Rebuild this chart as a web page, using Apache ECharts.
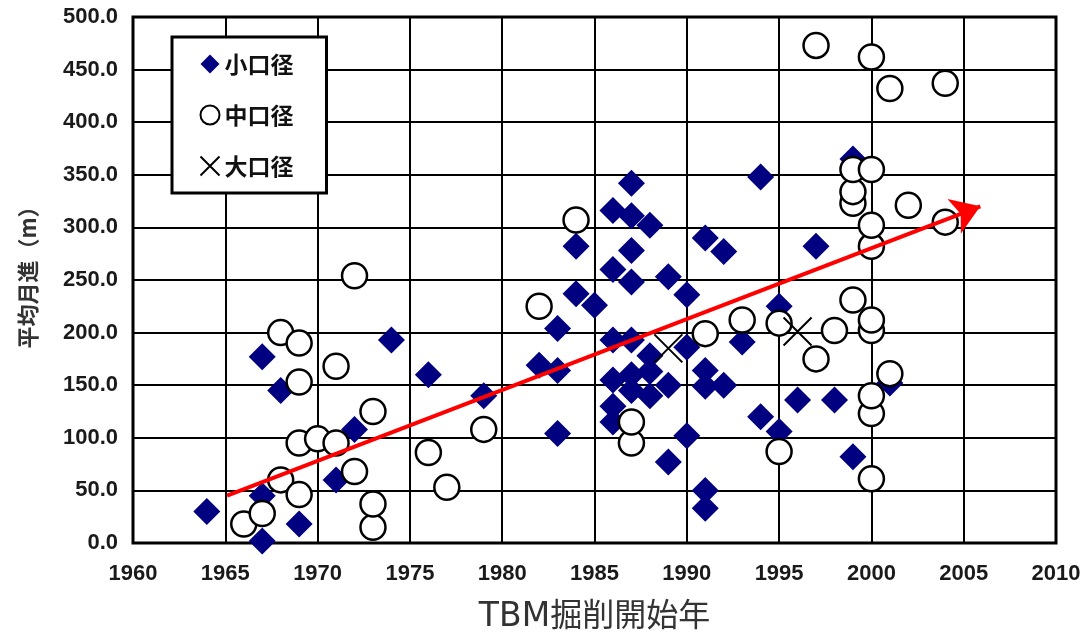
<!DOCTYPE html>
<html>
<head>
<meta charset="utf-8">
<script src="https://cdn.jsdelivr.net/npm/echarts@6/dist/echarts.min.js"></script>
<style>
  html, body { margin: 0; padding: 0; background: #fff; }
  #chart { width: 1081px; height: 632px; }
</style>
</head>
<body>
<div id="chart"></div>
<script>
// TBM advance rate vs. excavation start year, grouped by bore diameter
const seriesNames = ['小口径', '中口径', '大口径'];

// [start year, mean monthly advance (m)]
const smallBore = [
  [1964, 30], [1967, 2], [1967, 45], [1967, 177], [1968, 145], [1969, 18],
  [1971, 60], [1972, 108], [1974, 193], [1976, 160], [1979, 140], [1982, 169],
  [1983, 104], [1983, 164], [1983, 204], [1984, 237], [1984, 282], [1985, 226],
  [1986, 115], [1986, 130], [1986, 155], [1986, 193], [1986, 260], [1986, 316],
  [1987, 145], [1987, 160], [1987, 193], [1987, 248], [1987, 278], [1987, 311],
  [1987, 342], [1988, 140], [1988, 163], [1988, 178], [1988, 302], [1989, 77],
  [1989, 150], [1989, 253], [1990, 102], [1990, 186], [1990, 236], [1991, 33],
  [1991, 50], [1991, 149], [1991, 164], [1991, 290], [1992, 150], [1992, 277],
  [1993, 191], [1994, 120], [1994, 348], [1995, 106], [1995, 225], [1996, 136],
  [1997, 282], [1998, 136], [1999, 82], [1999, 365], [2001, 152]
];

const mediumBore = [
  [1966, 18], [1967, 28], [1968, 60], [1968, 200], [1969, 46], [1969, 95],
  [1969, 153], [1969, 190], [1970, 99], [1971, 95], [1971, 168], [1972, 68],
  [1972, 254], [1973, 15], [1973, 37], [1973, 125], [1976, 86], [1977, 53],
  [1979, 108], [1982, 225], [1984, 307], [1987, 95], [1987, 115], [1991, 199],
  [1993, 212], [1995, 87], [1995, 209], [1997, 175], [1997, 473], [1998, 202],
  [1999, 231], [1999, 323], [1999, 334], [1999, 355], [2000, 61], [2000, 123],
  [2000, 140], [2000, 202], [2000, 212], [2000, 282], [2000, 302], [2000, 355],
  [2000, 462], [2001, 161], [2001, 432], [2002, 321], [2004, 305], [2004, 437]
];

const largeBore = [[1989, 185], [1996, 201]];

// trend arrow: start and end in data coordinates
const trendArrow = [[1965.1, 45], [2005.9, 320]];

const xRange = { min: 1960, max: 2010, step: 5 };
const yRange = { min: 0, max: 500, step: 50 };

const CROSS = 'path://M0,0L10,10M10,0L0,10';
const labelFont = 'Liberation Sans, Arial, sans-serif';
const cjkFont = '"Noto Sans CJK JP", sans-serif';

const chart = echarts.init(document.getElementById('chart'), null, { renderer: 'canvas' });

chart.setOption({
  animation: false,
  backgroundColor: '#fff',
  grid: {
    left: 133, right: 25, top: 17, bottom: 89,
    containLabel: false, outerBoundsMode: 'none',
    show: true, borderColor: '#000', borderWidth: 3, backgroundColor: '#fff'
  },
  xAxis: {
    type: 'value', min: xRange.min, max: xRange.max, interval: xRange.step,
    axisLine: { show: false }, axisTick: { show: false },
    splitLine: { show: true, lineStyle: { color: '#000', width: 2 } },
    axisLabel: { margin: 20, fontSize: 22, fontWeight: 'bold', fontFamily: labelFont, color: '#1a1a1a',
                 formatter: v => String(v) },
    name: '{a|TBM}{b|掘削開始年}', nameLocation: 'middle', nameGap: 51,
    nameTextStyle: {
      rich: {
        a: { fontSize: 33, padding: [7, 0, 0, 0], fontFamily: 'DejaVu Sans, sans-serif', color: '#333' },
        b: { fontSize: 32, fontFamily: cjkFont, color: '#333' }
      }
    }
  },
  yAxis: {
    type: 'value', min: yRange.min, max: yRange.max, interval: yRange.step,
    axisLine: { show: false }, axisTick: { show: false },
    splitLine: { show: true, lineStyle: { color: '#000', width: 2 } },
    axisLabel: { margin: 15, fontSize: 22, fontWeight: 'bold', fontFamily: labelFont, color: '#1a1a1a',
                 formatter: v => v.toFixed(1) }
  },
  legend: {
    orient: 'vertical', left: 172, top: 37,
    backgroundColor: '#fff', borderColor: '#000', borderWidth: 3, borderRadius: 0,
    padding: [15, 33, 15, 26],
    itemWidth: 19, itemHeight: 19, itemGap: 27,
    selectedMode: false,
    textStyle: { fontSize: 23, lineHeight: 24, fontWeight: 'bold', fontFamily: cjkFont, color: '#111' },
    data: [
      { name: seriesNames[0], icon: 'diamond' },
      { name: seriesNames[1], icon: 'circle' },
      { name: seriesNames[2], icon: CROSS }
    ]
  },
  graphic: [{
    type: 'text', x: 28, y: 272, rotation: Math.PI / 2,
    style: { text: '平均月進（m）', fontSize: 22, fontWeight: 'bold', fontFamily: cjkFont, fill: '#333',
             align: 'center', verticalAlign: 'middle' }
  }],
  series: [
    {
      name: seriesNames[0], type: 'scatter', data: smallBore,
      symbol: 'diamond', symbolSize: 27, z: 3,
      itemStyle: { color: '#000080', opacity: 1 },
      emphasis: { disabled: true }
    },
    {
      name: seriesNames[1], type: 'scatter', data: mediumBore,
      symbol: 'circle', symbolSize: 25, z: 4,
      itemStyle: { color: '#fff', borderColor: '#000', borderWidth: 2.5, opacity: 1 },
      emphasis: { disabled: true }
    },
    {
      name: seriesNames[2], type: 'scatter', data: largeBore,
      symbol: CROSS, symbolSize: 28, z: 5,
      itemStyle: { color: 'none', borderColor: '#000', borderWidth: 2, opacity: 1 },
      emphasis: { disabled: true }
    },
    {
      type: 'lines', coordinateSystem: 'cartesian2d', z: 6, silent: true,
      data: [{ coords: trendArrow }],
      symbol: ['none', 'arrow'], symbolSize: [28, 28],
      lineStyle: { color: '#ff0000', width: 4, opacity: 1, curveness: 0 }
    }
  ]
});
</script>
</body>
</html>
